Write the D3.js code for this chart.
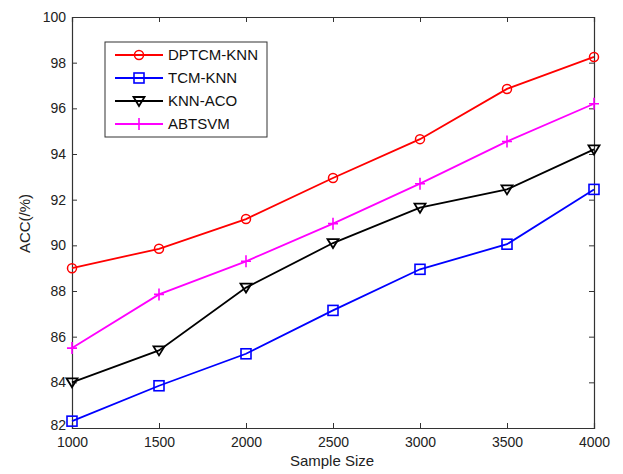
<!DOCTYPE html>
<html>
<head>
<meta charset="utf-8">
<script src="https://cdn.jsdelivr.net/npm/d3@7"></script>
<style>
  body { margin: 0; background: #fff; }
  text { font-family: "Liberation Sans", Arial, sans-serif; }
</style>
</head>
<body>
<svg id="chart" width="623" height="474"></svg>
<script>
var sampleSizes = [1000, 1500, 2000, 2500, 3000, 3500, 4000];
var dptcm = [89.0, 89.85, 91.15, 92.95, 94.65, 96.85, 98.25];
var tcm = [82.3, 83.85, 85.25, 87.15, 88.95, 90.05, 92.45];
var knnAco = [84.0, 85.4, 88.15, 90.1, 91.65, 92.45, 94.2];
var abtsvm = [85.5, 87.85, 89.3, 90.95, 92.7, 94.55, 96.2];
var xTicks = [1000, 1500, 2000, 2500, 3000, 3500, 4000];
var yTicks = [82, 84, 86, 88, 90, 92, 94, 96, 98, 100];

var series = [
  {name: "DPTCM-KNN", values: dptcm, color: "#ff0000", marker: "circle"},
  {name: "TCM-KNN", values: tcm, color: "#0000ff", marker: "square"},
  {name: "KNN-ACO", values: knnAco, color: "#000000", marker: "triangle"},
  {name: "ABTSVM", values: abtsvm, color: "#ff00ff", marker: "plus"}
];

var svg = d3.select("#chart");
var plotL = 72, plotR = 594, plotT = 17, plotB = 428;

var x = d3.scaleLinear().domain([1000, 4000]).range([plotL, plotR]);
var y = d3.scaleLinear().domain([82, 100]).range([plotB, plotT]);

// axes, MATLAB style with inward ticks on all four sides
svg.append("g").attr("transform", "translate(0," + plotB + ")")
  .call(d3.axisBottom(x).tickValues(xTicks).tickSize(-5).tickPadding(9).tickFormat(d3.format("d")));
svg.append("g").attr("transform", "translate(0," + plotT + ")")
  .call(d3.axisTop(x).tickValues(xTicks).tickSize(-5).tickFormat(""));
var yAxisG = svg.append("g").attr("transform", "translate(" + plotL + ",0)")
  .call(d3.axisLeft(y).tickValues(yTicks).tickSize(-5).tickPadding(6));
svg.append("g").attr("transform", "translate(" + plotR + ",0)")
  .call(d3.axisRight(y).tickValues(yTicks).tickSize(-5).tickFormat(""));

svg.selectAll(".domain").attr("stroke", "#333").attr("stroke-width", 1.2);
svg.selectAll(".tick line").attr("stroke", "#333");
svg.selectAll(".tick text").attr("font-size", 14).attr("fill", "#222")
  .attr("font-family", "Liberation Sans, Arial, sans-serif");
// lift the lowest y label a little so it clears the x labels
yAxisG.selectAll(".tick text").filter(function(d) { return d == 82; }).attr("dy", "0.1em");

svg.append("text").attr("x", 332).attr("y", 466).attr("text-anchor", "middle")
  .attr("font-size", 15).attr("fill", "#222").text("Sample Size");
svg.append("text").attr("transform", "translate(30," + ((plotT + plotB) / 2 + 1) + ") rotate(-90)")
  .attr("text-anchor", "middle").attr("font-size", 15).attr("fill", "#222").text("ACC(/%)");

function drawMarker(g, type, color) {
  if (type == "circle") {
    g.append("circle").attr("r", 4.5).attr("fill", "none").attr("stroke", color).attr("stroke-width", 1.5);
  } else if (type == "square") {
    g.append("rect").attr("x", -5).attr("y", -5).attr("width", 10).attr("height", 10)
      .attr("fill", "none").attr("stroke", color).attr("stroke-width", 1.6);
  } else if (type == "triangle") {
    g.append("path").attr("d", "M-5.5,-4L5.5,-4L0,5Z").attr("fill", "none")
      .attr("stroke", color).attr("stroke-width", 1.8);
  } else {
    g.append("path").attr("d", "M-5,0L5,0M0,-6L0,6").attr("stroke", color).attr("stroke-width", 1.6);
  }
}

var line = d3.line().x(function(d, i) { return x(sampleSizes[i]); }).y(function(d) { return y(d); });

series.forEach(function(s) {
  svg.append("path").datum(s.values).attr("d", line)
    .attr("fill", "none").attr("stroke", s.color).attr("stroke-width", 1.8);
  s.values.forEach(function(v, i) {
    var g = svg.append("g").attr("transform", "translate(" + x(sampleSizes[i]) + "," + y(v) + ")");
    drawMarker(g, s.marker, s.color);
  });
});

// legend
var legend = svg.append("g");
legend.append("rect").attr("x", 105).attr("y", 42).attr("width", 162).attr("height", 95)
  .attr("fill", "#fff").attr("stroke", "#333").attr("stroke-width", 1);
series.forEach(function(s, i) {
  var ly = 55 + i * 23;
  legend.append("line").attr("x1", 115).attr("x2", 163).attr("y1", ly).attr("y2", ly)
    .attr("stroke", s.color).attr("stroke-width", 1.8);
  drawMarker(legend.append("g").attr("transform", "translate(139," + ly + ")"), s.marker, s.color);
  legend.append("text").attr("x", 168).attr("y", ly + 5).attr("font-size", 15).attr("fill", "#111").text(s.name);
});
</script>
</body>
</html>
